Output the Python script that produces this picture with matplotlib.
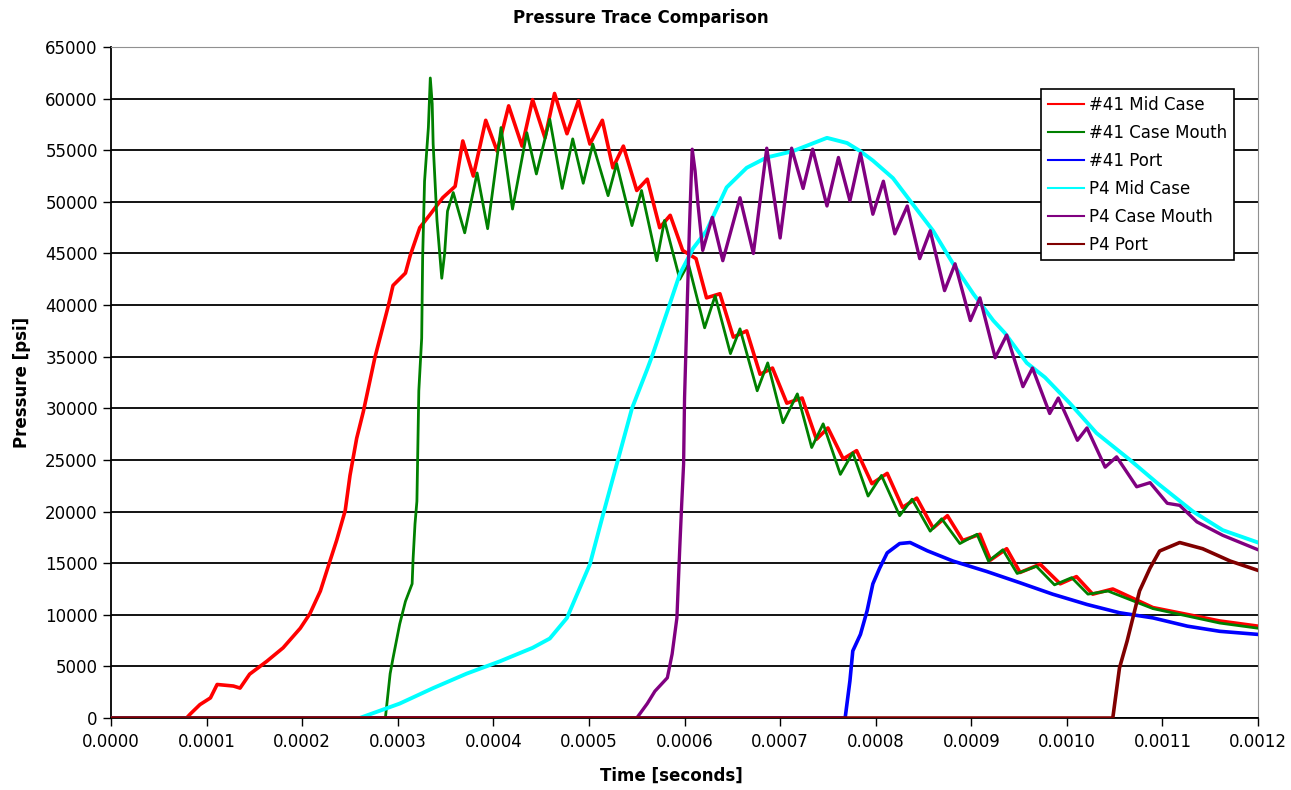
import numpy as np
import matplotlib
matplotlib.use('Agg')
import matplotlib.pyplot as plt

# times in units of 1e-4 s, pressure in psi
t_mid41 = [0, 0.79, 0.83, 0.93, 1.04, 1.11, 1.28, 1.35, 1.45, 1.63, 1.80, 1.98, 2.08, 2.19, 2.29, 2.36, 2.45,
           2.50, 2.57, 2.64, 2.76, 2.90, 2.95, 3.08, 3.13, 3.23, 3.34, 3.47, 3.60, 3.68, 3.79, 3.92, 4.04,
           4.16, 4.30, 4.41, 4.54, 4.64, 4.77, 4.89, 5.01, 5.14, 5.25, 5.36, 5.50, 5.61, 5.74, 5.85, 5.98,
           6.12, 6.23, 6.37, 6.51, 6.65, 6.79, 6.92, 7.07, 7.23, 7.38, 7.50, 7.66, 7.80, 7.96, 8.12, 8.28,
           8.43, 8.60, 8.75, 8.91, 9.09, 9.20, 9.37, 9.51, 9.72, 9.93, 10.10, 10.27, 10.48, 10.90, 11.60, 12.0]
p_mid41 = [0, 0, 400, 1300, 1950, 3250, 3100, 2900, 4250, 5500, 6800, 8700, 10100, 12300, 15200, 17200, 20100,
           23500, 27100, 29700, 34900, 39900, 41900, 43100, 44800, 47500, 48800, 50400, 51500, 55900, 52500, 57900, 54900,
           59300, 55400, 59900, 56200, 60500, 56600, 59800, 55600, 57900, 53300, 55400, 51100, 52200, 47500, 48700, 45300,
           44500, 40700, 41100, 36900, 37500, 33300, 33900, 30500, 31000, 27000, 28100, 25100, 25900, 22700, 23700, 20400,
           21300, 18400, 19600, 17200, 17800, 15300, 16400, 14100, 14900, 13000, 13700, 12000, 12500, 10700, 9400, 8900]

t_mouth41 = [0, 2.87, 2.92, 2.95, 3.02, 3.08, 3.15, 3.16, 3.18, 3.20, 3.22, 3.25, 3.26, 3.28, 3.32, 3.34, 3.36,
             3.37, 3.41, 3.46, 3.49, 3.52, 3.58, 3.70, 3.83, 3.94, 4.08, 4.20, 4.35, 4.45, 4.59, 4.72, 4.83,
             4.94, 5.04, 5.20, 5.29, 5.45, 5.55, 5.71, 5.79, 5.95, 6.04, 6.21, 6.32, 6.48, 6.58, 6.76, 6.87,
             7.03, 7.18, 7.33, 7.45, 7.63, 7.76, 7.92, 8.06, 8.25, 8.38, 8.57, 8.69, 8.88, 9.06, 9.18, 9.33,
             9.48, 9.68, 9.87, 10.05, 10.22, 10.43, 10.90, 11.60, 12.0]
p_mouth41 = [0, 0, 4300, 5800, 9100, 11300, 13000, 15400, 18800, 21000, 31700, 36800, 44600, 52000, 57200, 62000, 59500,
             55600, 48200, 42600, 45000, 49100, 50900, 47000, 52800, 47400, 57200, 49300, 56700, 52700, 58000, 51300, 56100,
             51800, 55600, 50600, 53700, 47700, 51100, 44300, 48200, 42500, 44000, 37800, 40900, 35300, 37700, 31700, 34400,
             28600, 31400, 26200, 28500, 23600, 25700, 21500, 23500, 19600, 21200, 18100, 19300, 16900, 17800, 15200, 16300,
             14000, 14700, 12900, 13600, 12000, 12300, 10600, 9200, 8700]

t_port41 = [0, 7.68, 7.73, 7.76, 7.84, 7.91, 7.97, 8.04, 8.12, 8.25, 8.36, 8.54, 8.81, 9.16, 9.51, 9.85,
            10.21, 10.55, 10.90, 11.26, 11.60, 12.0]
p_port41 = [0, 0, 3600, 6500, 8100, 10400, 13000, 14500, 16000, 16900, 17000, 16200, 15200, 14200, 13100, 12000,
            11000, 10200, 9700, 8900, 8400, 8100]

t_midp4 = [0, 2.60, 3.02, 3.37, 3.72, 4.07, 4.41, 4.59, 4.77, 5.01, 5.15, 5.30, 5.45, 5.61, 5.67, 5.82, 5.95,
           6.09, 6.23, 6.44, 6.65, 6.86, 7.13, 7.49, 7.70, 7.84, 7.97, 8.18, 8.36, 8.60, 8.81, 9.02, 9.23,
           9.35, 9.58, 9.77, 10.03, 10.31, 10.66, 10.94, 11.32, 11.63, 12.0]
p_midp4 = [0, 0, 1400, 2900, 4300, 5500, 6800, 7700, 9700, 14900, 19800, 24900, 30000, 33800, 35300, 39400, 43000,
           45500, 47200, 51400, 53300, 54300, 54900, 56200, 55700, 54900, 54000, 52300, 50100, 47200, 44000, 41100, 38500,
           37300, 34400, 33000, 30500, 27600, 25000, 22800, 20000, 18200, 17000]

t_mouthp4 = [0, 5.50, 5.61, 5.69, 5.82, 5.87, 5.92, 5.95, 5.97, 5.99, 6.00, 6.03, 6.05, 6.08, 6.11, 6.14, 6.19,
             6.29, 6.40, 6.58, 6.72, 6.86, 7.00, 7.12, 7.24, 7.34, 7.49, 7.61, 7.73, 7.84, 7.97, 8.08, 8.20,
             8.33, 8.46, 8.57, 8.72, 8.83, 8.99, 9.09, 9.25, 9.37, 9.54, 9.64, 9.82, 9.91, 10.11, 10.21, 10.40,
             10.52, 10.73, 10.87, 11.05, 11.18, 11.36, 11.63, 12.0]
p_mouthp4 = [0, 0, 1400, 2600, 3900, 6200, 9700, 16500, 20700, 24600, 31000, 40700, 47200, 55100, 53000, 49800, 45300,
             48500, 44300, 50400, 45000, 55200, 46500, 55200, 51300, 55100, 49600, 54300, 50100, 54700, 48800, 52000, 46900,
             49600, 44500, 47200, 41400, 44000, 38500, 40700, 34900, 37100, 32100, 33900, 29500, 31000, 26900, 28100, 24300,
             25300, 22400, 22800, 20800, 20600, 19000, 17700, 16300]

t_portp4 = [0, 10.48, 10.55, 10.63, 10.69, 10.76, 10.87, 10.97, 11.18, 11.42, 11.71, 12.0]
p_portp4 = [0, 0, 4850, 7460, 9690, 12310, 14530, 16180, 17000, 16400, 15200, 14300]

labels = ['#41 Mid Case', '#41 Case Mouth', '#41 Port', 'P4 Mid Case', 'P4 Case Mouth', 'P4 Port']
x_ticks = np.arange(0, 13) * 1e-4
y_ticks = np.arange(0, 65001, 5000)

fig = plt.figure(figsize=(12.91, 7.90), dpi=100)
ax = fig.add_axes([0.0860, 0.0911, 0.8885, 0.8494])

series = [(t_mid41, p_mid41, '#FF0000', 2.6),
          (t_mouth41, p_mouth41, '#008000', 2.0),
          (t_port41, p_port41, '#0000FF', 2.6),
          (t_midp4, p_midp4, '#00FFFF', 2.8),
          (t_mouthp4, p_mouthp4, '#800080', 2.4),
          (t_portp4, p_portp4, '#800000', 2.6)]
for (t, p, c, lw), lab in zip(series, labels):
    ax.plot(np.array(t) * 1e-4, p, color=c, lw=lw, label=lab, zorder=3)

ax.set_xlim(0, 0.0012)
ax.set_ylim(0, 65000)
ax.set_xticks(x_ticks)
ax.set_xticklabels(['%.4f' % v for v in x_ticks])
ax.set_yticks(y_ticks)
ax.tick_params(direction='out', length=6, width=1, labelsize=12, color='black')
ax.tick_params(axis='x', pad=5)

ax.yaxis.grid(True, color='black', lw=1.3, zorder=1)
ax.set_axisbelow(True)
ax.get_ygridlines()[-1].set_visible(False)
ax.spines['left'].set_color('black')
ax.spines['bottom'].set_color('black')
ax.spines['left'].set_linewidth(1.3)
ax.spines['bottom'].set_linewidth(1.3)
ax.spines['top'].set_color('#909090')
ax.spines['right'].set_color('#909090')

fig.text(641 / 1291, 1 - 18 / 790, 'Pressure Trace Comparison', ha='center', va='center',
         fontsize=12, fontweight='bold')
fig.text(671 / 1291, 1 - 776 / 790, 'Time [seconds]', ha='center', va='center',
         fontsize=12, fontweight='bold')
fig.text(22 / 1291, 1 - 382 / 790, 'Pressure [psi]', ha='center', va='center',
         fontsize=12, fontweight='bold', rotation=90)

leg = ax.legend(loc='upper left', bbox_to_anchor=(1041 / 1291, 1 - 89 / 790),
                bbox_transform=fig.transFigure, fontsize=12, frameon=True, fancybox=False,
                edgecolor='black', framealpha=1, handlelength=2.2, handletextpad=0.3,
                labelspacing=0.6, borderpad=0.4, borderaxespad=0)
leg.get_frame().set_linewidth(1.2)
for line in leg.get_lines():
    line.set_linewidth(1.5)
leg.set_zorder(5)

fig.savefig('out.png', dpi=100)
